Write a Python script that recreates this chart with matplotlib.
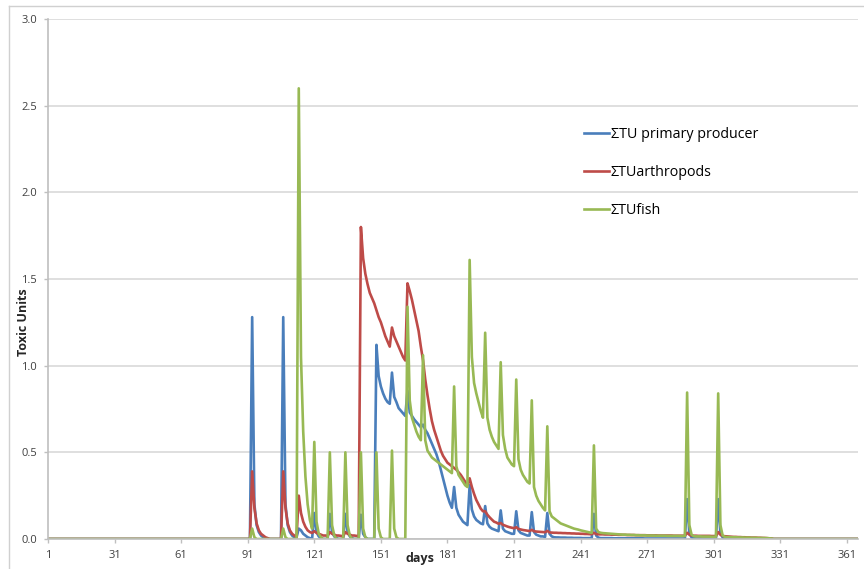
import matplotlib.pyplot as plt
from matplotlib.lines import Line2D

plt.rcParams['font.family'] = ['Open Sans', 'DejaVu Sans']

# values read per day, starting at day 93 (days 1-92 are zero)
first_day = 93
n_days = 366

producer = [
    1.28, 0.20, 0.08, 0.04, 0.02, 0.01, 0.0,
    0.0, 0.0, 0.0, 0.0, 0.0, 0.0, 0.0,
    1.28, 0.20, 0.08, 0.04, 0.02, 0.01, 0.01,
    0.06, 0.05, 0.03, 0.02, 0.01, 0.005, 0.0,
    0.15, 0.04, 0.015, 0.005, 0.0, 0.0, 0.0,
    0.145, 0.04, 0.015, 0.005, 0.0, 0.0, 0.0,
    0.145, 0.04, 0.015, 0.005, 0.0, 0.0, 0.0,
    0.14, 0.03, 0.01, 0.0, 0.0, 0.0, 0.0,
    1.12, 0.94, 0.88, 0.84, 0.81, 0.79, 0.78,
    0.96, 0.82, 0.79, 0.755, 0.74, 0.725, 0.71,
    0.856, 0.73, 0.71, 0.69, 0.675, 0.66, 0.645,
    0.66, 0.63, 0.61, 0.58, 0.55, 0.52, 0.49,
    0.45, 0.40, 0.35, 0.30, 0.25, 0.21, 0.18,
    0.30, 0.18, 0.14, 0.12, 0.10, 0.09, 0.08,
    0.31, 0.17, 0.13, 0.11, 0.10, 0.09, 0.085,
    0.19, 0.09, 0.07, 0.06, 0.055, 0.05, 0.045,
    0.165, 0.06, 0.045, 0.04, 0.035, 0.03, 0.03,
    0.16, 0.05, 0.035, 0.03, 0.025, 0.02, 0.02,
    0.155, 0.04, 0.025, 0.02, 0.015, 0.015, 0.012,
    0.15, 0.03, 0.015, 0.01, 0.009, 0.009, 0.008,
    0.008, 0.008, 0.007, 0.007, 0.007, 0.006, 0.006,
    0.006, 0.006, 0.005, 0.005, 0.005, 0.005, 0.005,
    0.145, 0.02, 0.008, 0.005, 0.005, 0.005, 0.005,
    0.005, 0.005, 0.004, 0.004, 0.004, 0.004, 0.004,
    0.004, 0.004, 0.004, 0.004, 0.004, 0.004, 0.004,
    0.004, 0.004, 0.003, 0.003, 0.003, 0.003, 0.003,
    0.003, 0.003, 0.003, 0.003, 0.003, 0.003, 0.003,
    0.003, 0.003, 0.003, 0.003, 0.003, 0.003, 0.003,
    0.23, 0.03, 0.01, 0.004, 0.003, 0.003, 0.003,
    0.003, 0.003, 0.003, 0.003, 0.003, 0.003, 0.003,
    0.23, 0.03, 0.01, 0.004, 0.003, 0.002, 0.002,
    0.002, 0.001, 0.001, 0.001, 0.0, 0.0, 0.0,
]

arthropods = [
    0.39, 0.18, 0.09, 0.05, 0.03, 0.02, 0.01,
    0.005, 0.0, 0.0, 0.0, 0.0, 0.0, 0.0,
    0.39, 0.18, 0.09, 0.05, 0.03, 0.02, 0.01,
    0.25, 0.15, 0.10, 0.07, 0.05, 0.04, 0.035,
    0.045, 0.035, 0.03, 0.025, 0.02, 0.02, 0.018,
    0.04, 0.03, 0.025, 0.02, 0.02, 0.018, 0.016,
    0.04, 0.03, 0.025, 0.02, 0.02, 0.018, 0.016,
    1.80, 1.62, 1.53, 1.47, 1.42, 1.39, 1.36,
    1.32, 1.28, 1.25, 1.21, 1.17, 1.14, 1.11,
    1.22, 1.17, 1.14, 1.11, 1.08, 1.05, 1.03,
    1.475, 1.43, 1.38, 1.32, 1.26, 1.20, 1.11,
    1.03, 0.92, 0.83, 0.75, 0.68, 0.63, 0.59,
    0.55, 0.51, 0.48, 0.46, 0.44, 0.43, 0.42,
    0.41, 0.40, 0.385, 0.37, 0.35, 0.33, 0.31,
    0.35, 0.30, 0.26, 0.225, 0.20, 0.175, 0.16,
    0.16, 0.14, 0.125, 0.112, 0.10, 0.095, 0.088,
    0.092, 0.082, 0.077, 0.072, 0.068, 0.065, 0.062,
    0.068, 0.058, 0.055, 0.052, 0.05, 0.048, 0.046,
    0.053, 0.045, 0.043, 0.042, 0.041, 0.04, 0.039,
    0.047, 0.038, 0.037, 0.036, 0.036, 0.035, 0.035,
    0.034, 0.034, 0.033, 0.033, 0.032, 0.032, 0.031,
    0.031, 0.030, 0.030, 0.029, 0.029, 0.028, 0.028,
    0.036, 0.028, 0.027, 0.027, 0.027, 0.026, 0.026,
    0.026, 0.025, 0.025, 0.025, 0.024, 0.024, 0.024,
    0.024, 0.023, 0.023, 0.023, 0.023, 0.022, 0.022,
    0.022, 0.022, 0.022, 0.021, 0.021, 0.021, 0.021,
    0.021, 0.020, 0.020, 0.020, 0.020, 0.020, 0.020,
    0.020, 0.019, 0.019, 0.019, 0.019, 0.019, 0.019,
    0.036, 0.025, 0.02, 0.019, 0.019, 0.018, 0.018,
    0.018, 0.018, 0.018, 0.018, 0.017, 0.017, 0.017,
    0.04, 0.025, 0.018, 0.016, 0.015, 0.014, 0.013,
    0.012, 0.012, 0.011, 0.011, 0.010, 0.010, 0.009,
    0.009, 0.008, 0.008, 0.008, 0.007, 0.007, 0.006,
    0.006, 0.005, 0.004, 0.003, 0.0, 0.0, 0.0,
]

fish = [
    0.06, 0.01, 0.0, 0.0, 0.0, 0.0, 0.0,
    0.0, 0.0, 0.0, 0.0, 0.0, 0.0, 0.0,
    0.06, 0.01, 0.0, 0.0, 0.0, 0.0, 0.0,
    2.60, 1.05, 0.62, 0.36, 0.20, 0.11, 0.06,
    0.56, 0.10, 0.03, 0.01, 0.0, 0.0, 0.0,
    0.50, 0.08, 0.02, 0.0, 0.0, 0.0, 0.0,
    0.50, 0.08, 0.02, 0.0, 0.0, 0.0, 0.0,
    0.50, 0.06, 0.01, 0.0, 0.0, 0.0, 0.0,
    0.50, 0.06, 0.01, 0.0, 0.0, 0.0, 0.0,
    0.51, 0.06, 0.01, 0.0, 0.0, 0.0, 0.0,
    1.34, 0.80, 0.70, 0.66, 0.62, 0.59, 0.57,
    1.06, 0.57, 0.51, 0.49, 0.47, 0.46, 0.45,
    0.44, 0.43, 0.42, 0.41, 0.40, 0.39, 0.38,
    0.88, 0.42, 0.37, 0.35, 0.33, 0.31, 0.30,
    1.61, 1.05, 0.90, 0.84, 0.79, 0.74, 0.70,
    1.19, 0.70, 0.63, 0.59, 0.56, 0.54, 0.52,
    1.02, 0.60, 0.52, 0.47, 0.45, 0.43, 0.42,
    0.92, 0.46, 0.40, 0.37, 0.35, 0.33, 0.32,
    0.80, 0.30, 0.25, 0.22, 0.20, 0.18, 0.165,
    0.65, 0.16, 0.13, 0.12, 0.11, 0.10, 0.09,
    0.085, 0.08, 0.075, 0.07, 0.065, 0.06, 0.057,
    0.054, 0.05, 0.047, 0.044, 0.041, 0.038, 0.035,
    0.54, 0.06, 0.04, 0.036, 0.034, 0.033, 0.032,
    0.031, 0.030, 0.029, 0.028, 0.027, 0.026, 0.025,
    0.025, 0.024, 0.024, 0.023, 0.023, 0.022, 0.022,
    0.021, 0.021, 0.021, 0.020, 0.020, 0.020, 0.020,
    0.019, 0.019, 0.019, 0.019, 0.019, 0.018, 0.018,
    0.018, 0.018, 0.018, 0.018, 0.017, 0.017, 0.017,
    0.845, 0.08, 0.025, 0.016, 0.015, 0.015, 0.015,
    0.014, 0.014, 0.014, 0.014, 0.013, 0.013, 0.013,
    0.84, 0.08, 0.02, 0.012, 0.011, 0.011, 0.010,
    0.010, 0.010, 0.009, 0.009, 0.009, 0.008, 0.008,
    0.008, 0.007, 0.007, 0.007, 0.006, 0.006, 0.006,
    0.005, 0.005, 0.004, 0.003, 0.0, 0.0, 0.0,
]

labels = ['ΣTU primary producer', 'ΣTUarthropods', 'ΣTUfish']
colors = ['#4A7EBB', '#BE4B48', '#98B954']
x_ticks = list(range(1, 362, 30))
y_ticks = [0.0, 0.5, 1.0, 1.5, 2.0, 2.5, 3.0]


def full_year(vals):
    # zero before the first exposure and after the last value
    return [0.0] * (first_day - 1) + vals + [0.0] * (n_days - first_day + 1 - len(vals))


days = list(range(1, n_days + 1))

fig = plt.figure(figsize=(8.64, 5.69), dpi=100)
ax = fig.add_axes([48 / 864, 1 - 539 / 569, 810 / 864, 520 / 569])

for vals, lab, col in zip([producer, arthropods, fish], labels, colors):
    ax.plot(days, full_year(vals), color=col, lw=1.9, label=lab, solid_joinstyle='round')

ax.set_xlim(1, 366)
ax.set_ylim(0, 3)
ax.set_xticks(x_ticks)
ax.set_yticks(y_ticks)
ax.set_yticklabels(['%.1f' % v for v in y_ticks])
ax.grid(axis='y', color='#D9D9D9', lw=1.2)
ax.set_axisbelow(True)

for s in ['top', 'right']:
    ax.spines[s].set_visible(False)
for s in ['left', 'bottom']:
    ax.spines[s].set_color('#BFBFBF')
    ax.spines[s].set_linewidth(1.2)

ax.tick_params(axis='both', colors='#BFBFBF', labelcolor='#404040', labelsize=8,
               length=3, width=1, pad=5)

ax.set_xlabel('days', fontsize=9, fontweight='bold', color='#262626')
ax.set_ylabel('Toxic Units', fontsize=9, fontweight='bold', color='#262626')
ax.xaxis.set_label_coords(0.459, -0.025)
ax.yaxis.set_label_coords(-0.022, 0.417)

ax.legend(loc='upper left', bbox_to_anchor=(584 / 864, 1 - 127 / 569),
          bbox_transform=fig.transFigure, frameon=False, fontsize=10.3,
          handlelength=1.75, handletextpad=0.12, labelspacing=1.62,
          borderaxespad=0, borderpad=0)

# chart border (left and top edges visible in the picture)
fig.add_artist(Line2D([9 / 864, 9 / 864], [0, 1 - 6 / 569], transform=fig.transFigure,
                      color='#D0D0D0', lw=1))
fig.add_artist(Line2D([9 / 864, 1], [1 - 6 / 569, 1 - 6 / 569], transform=fig.transFigure,
                      color='#D0D0D0', lw=1))

fig.savefig('out.png', dpi=100)
